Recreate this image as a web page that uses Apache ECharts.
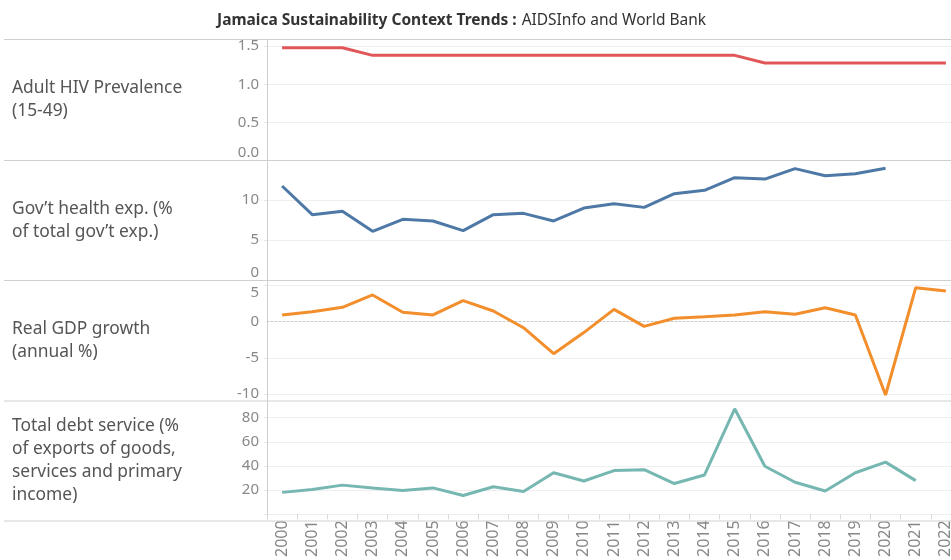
<!DOCTYPE html>
<html><head><meta charset="utf-8">
<script src="https://cdn.jsdelivr.net/npm/echarts@6/dist/echarts.min.js"></script>
<style>html,body{margin:0;padding:0;background:#fff;overflow:hidden;width:951px;height:560px}#c{width:962px;height:560px}</style>
</head><body><div id="c"></div>
<script>
// ---- data ----
const years = ['2000','2001','2002','2003','2004','2005','2006','2007','2008','2009','2010','2011','2012','2013','2014','2015','2016','2017','2018','2019','2020','2021','2022'];
const hivPrevalence = [1.48,1.48,1.48,1.38,1.38,1.38,1.38,1.38,1.38,1.38,1.38,1.38,1.38,1.38,1.38,1.38,1.28,1.28,1.28,1.28,1.28,1.28,1.28];
const govHealthExp = [11.75,8.17,8.6,6.08,7.58,7.38,6.17,8.17,8.33,7.38,9.0,9.54,9.08,10.79,11.21,12.79,12.62,13.92,13.04,13.29,13.96,null,null];
const gdpGrowth = [0.93,1.38,1.99,3.69,1.3,0.93,2.9,1.48,-0.83,-4.42,-1.5,1.71,-0.64,0.47,0.69,0.93,1.38,1.02,1.93,0.93,-10.12,4.7,4.24];
const debtService = [18.2,20.5,24.2,21.9,19.8,21.9,15.6,22.9,19.0,34.4,27.6,36.2,37.0,25.5,32.6,87.3,39.8,26.6,19.3,34.4,43.2,27.9,null];
const rowLabels = ['Adult HIV Prevalence\n(15-49)','Gov\u2019t health exp. (%\nof total gov\u2019t exp.)','Real GDP growth\n(annual %)','Total debt service (%\nof exports of goods,\nservices and primary\nincome)'];
const hivTicks = [0,0.5,1,1.5];
const healthTicks = [0,5,10];
const gdpTicks = [-10,-5,0,5];
const gdpGridTicks = [-10,-5,5];
const debtTicks = [20,40,60,80];
const debtGridTicks = [0,20,40,60,80];
const seriesData = [hivPrevalence, govHealthExp, gdpGrowth, debtService];
const colors = ['#e15759','#4e79a7','#f28e2b','#76b7b2'];

// ---- layout ----
const rows = [
  {top:39.5, height:121, min:0, max:1.588, labels:hivTicks, grid:hivTicks, fmt:v=>v.toFixed(1), vMin:'bottom', vMax:'middle'},
  {top:160.5, height:119.5, min:0, max:14.94, labels:healthTicks, grid:healthTicks, fmt:v=>String(v), vMin:'bottom', vMax:'middle'},
  {top:280.5, height:120.5, min:-10.95, max:5.69, labels:gdpTicks, grid:gdpGridTicks, fmt:v=>String(v), vMin:'middle', vMax:'top'},
  {top:401, height:120, min:0, max:93.75, labels:debtTicks, grid:debtGridTicks, fmt:v=>String(v), vMin:'middle', vMax:'middle'}
];
const LEFT = 267, WIDTH = 694;
const axisGray = '#888888';

const grids = rows.map(r => ({left:LEFT, width:WIDTH, top:r.top, height:r.height, containLabel:false}));
const xAxes = rows.map((r,i) => ({
  type:'category', gridIndex:i, data:years, boundaryGap:true,
  axisLine: i===2 ? {show:true, onZero:true, lineStyle:{color:'#c8c8c8', type:[2,2], width:1}} : {show:false},
  axisTick: i===3 ? {show:true, length:5, lineStyle:{color:'#d8d8d8'}} : {show:false},
  axisLabel: i===3 ? {show:true, rotate:90, margin:6, color:axisGray, fontSize:16, fontFamily:'Noto Sans', interval:0} : {show:false},
  splitLine:{show:false}
}));
const yAxes = rows.map((r,i) => ({
  type:'value', gridIndex:i, min:r.min, max:r.max,
  axisLine:{show:true, lineStyle:{color:'#cfcfcf'}},
  axisTick:{show:true, inside:false, length:3, lineStyle:{color:'#e6e6e6'}, customValues:r.grid},
  axisLabel:{show:true, customValues:r.labels, formatter:r.fmt, color:axisGray, fontSize:15, fontFamily:'Noto Sans', margin:8,
    verticalAlignMinLabel:r.vMin, verticalAlignMaxLabel:r.vMax, showMinLabel:true, showMaxLabel:true},
  splitLine:{show:true, lineStyle:{color:'#efefef', width:1}}
}));
const series = seriesData.map((d,i) => ({
  type:'line', xAxisIndex:i, yAxisIndex:i, data:d, showSymbol:false, symbol:'none',
  lineStyle:{color:colors[i], width:3}, itemStyle:{color:colors[i]}, connectNulls:false, animation:false
}));

const sepY = [39.5,160.5,280.5,401,521];
const graphics = sepY.map(y => ({type:'line', silent:true, shape:{x1:4,y1:y,x2:962,y2:y}, style:{stroke:'#d0d0d0', lineWidth:1}, z:10}));
rows.forEach((r,i) => {
  graphics.push({type:'text', silent:true, x:12, y:r.top + r.height/2,
    style:{text:rowLabels[i], fill:'#555555', font:'17.4px "Noto Sans"', verticalAlign:'middle', align:'left', lineHeight:23}});
});

const chart = echarts.init(document.getElementById('c'), null, {renderer:'canvas'});
chart.setOption({
  backgroundColor:'#ffffff',
  animation:false,
  title:{
    text:'{b|Jamaica Sustainability Context Trends :} {n|AIDSInfo and World Bank}',
    left:212, top:7,
    textStyle:{rich:{
      b:{fontFamily:'Noto Sans', fontWeight:'bold', fontSize:15.5, color:'#333333'},
      n:{fontFamily:'Noto Sans', fontWeight:'normal', fontSize:15.5, color:'#333333'}
    }}
  },
  grid:grids, xAxis:xAxes, yAxis:yAxes, series:series,
  graphic:graphics,
  tooltip:{show:false}, legend:{show:false}
});
</script></body></html>
